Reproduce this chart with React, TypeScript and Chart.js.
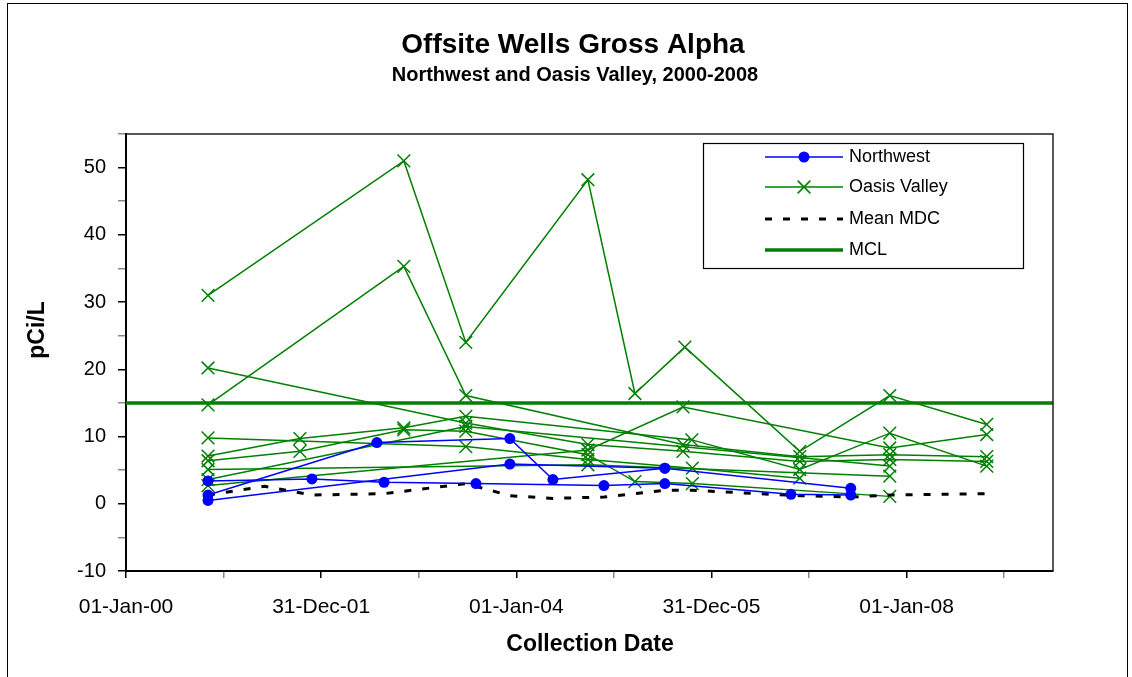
import React, { useEffect, useRef } from 'react';
import { Chart, registerables } from 'chart.js';
Chart.register(...registerables);

const FONT = "'Liberation Sans', Arial, sans-serif";
const GREEN = '#008000';
const BLUE = '#0000FF';

// ---- axis ticks ----
const xTickDays = [0, 365.25, 730.5, 1095.75, 1461, 1826.25, 2191.5, 2556.75, 2922, 3287.25];
const xTickLabels = ['01-Jan-00', '', '31-Dec-01', '', '01-Jan-04', '', '31-Dec-05', '', '01-Jan-08', ''];
const xMaxDays = 3470;
const yMin = -10;
const yMax = 55;

// ---- Northwest wells ----
const nw1Dates = ['2000-11-03', '2002-07-28', '2003-12-08', '2004-05-17', '2005-07-10', '2007-06-06'];
const nw1Values = [1.3, 9.1, 9.7, 3.6, 5.3, 2.3];
const nw2Dates = ['2000-11-03', '2001-11-27', '2002-08-24', '2003-08-03', '2004-11-24', '2005-07-10', '2006-10-25', '2007-06-06'];
const nw2Values = [3.4, 3.7, 3.2, 3.0, 2.7, 3.0, 1.4, 1.3];
const nw3Dates = ['2000-11-03', '2003-12-08', '2005-07-10'];
const nw3Values = [0.5, 5.9, 5.3];

// ---- Oasis Valley wells ----
const ov1Dates = ['2000-11-03', '2002-11-06', '2003-06-26', '2004-09-25', '2005-03-20', '2005-09-23', '2006-11-27', '2007-10-30', '2008-10-27'];
const ov1Values = [31.0, 51.0, 24.0, 48.2, 16.4, 23.3, 7.8, 16.1, 11.8];
const ov2Dates = ['2000-11-03', '2002-11-06', '2003-06-26', '2005-09-16', '2006-11-27', '2007-10-30', '2008-10-27'];
const ov2Values = [14.7, 35.3, 16.1, 8.8, 7.0, 7.3, 7.0];
const ov3Dates = ['2000-11-03', '2003-06-26', '2004-09-25', '2005-09-16', '2006-11-27', '2007-10-30', '2008-10-27'];
const ov3Values = [20.2, 12.0, 8.8, 7.8, 6.3, 6.6, 6.3];
const ov4Dates = ['2000-11-03', '2003-06-26', '2004-09-25', '2005-10-21', '2006-11-27'];
const ov4Values = [9.8, 8.5, 6.6, 5.3, 3.8];
const ov5Dates = ['2000-11-03', '2001-10-13', '2002-11-06', '2003-06-26', '2005-10-19', '2006-11-27', '2007-10-30', '2008-10-27'];
const ov5Values = [7.1, 9.7, 11.3, 13.0, 9.5, 5.1, 10.5, 5.6];
const ov6Dates = ['2000-11-03', '2001-10-13', '2002-11-06', '2003-06-26', '2004-09-25', '2005-03-20', '2005-10-21', '2007-10-30'];
const ov6Values = [6.4, 7.8, 11.0, 10.8, 7.3, 3.3, 3.0, 1.1];
const ov7Dates = ['2000-11-03', '2004-09-25', '2007-10-30'];
const ov7Values = [5.1, 5.8, 4.1];
const ov8Dates = ['2000-11-03', '2003-06-26', '2007-10-30'];
const ov8Values = [3.6, 11.5, 5.6];
const ov9Dates = ['2000-11-03', '2004-09-25', '2005-09-16', '2007-10-30', '2008-10-27'];
const ov9Values = [2.7, 8.0, 14.4, 8.3, 10.3];

// ---- Mean MDC and MCL ----
const mdcDates = ['2000-11-03', '2001-06-04', '2001-11-27', '2002-08-24', '2003-06-26', '2003-12-08', '2004-05-17', '2004-11-24', '2005-07-10', '2005-10-21', '2006-11-27', '2007-06-06', '2007-10-30', '2008-10-27'];
const mdcValues = [1.3, 2.6, 1.3, 1.5, 3.0, 1.2, 0.8, 1.0, 2.0, 2.0, 1.2, 1.0, 1.3, 1.5];
const mclValue = 15;

const legendLabels = ['Northwest', 'Oasis Valley', 'Mean MDC', 'MCL'];

const ORIGIN = Date.UTC(2000, 0, 1);
const dayOf = (s: string) => (Date.parse(s + 'T00:00:00Z') - ORIGIN) / 86400000;
const pts = (d: string[], v: number[]) => d.map((s, i) => ({ x: dayOf(s), y: v[i] }));

function drawCrossRot(ctx: CanvasRenderingContext2D, x: number, y: number, r: number) {
  const d = r * Math.SQRT1_2;
  ctx.beginPath();
  ctx.moveTo(x - d, y - d); ctx.lineTo(x + d, y + d);
  ctx.moveTo(x - d, y + d); ctx.lineTo(x + d, y - d);
  ctx.stroke();
}

const decor = {
  id: 'decor',
  beforeDraw(chart: any) {
    const { ctx, width, height } = chart;
    ctx.save();
    ctx.fillStyle = '#fff';
    ctx.fillRect(0, 0, width, height);
    ctx.restore();
  },
  afterDraw(chart: any) {
    const { ctx, chartArea: a } = chart;
    ctx.save();
    // plot frame top/right
    ctx.strokeStyle = '#222';
    ctx.lineWidth = 1.5;
    ctx.beginPath();
    ctx.moveTo(a.left, a.top); ctx.lineTo(a.right, a.top); ctx.lineTo(a.right, a.bottom);
    ctx.stroke();
    // outer border
    ctx.strokeStyle = '#000';
    ctx.lineWidth = 1;
    ctx.strokeRect(7.5, 3.5, 1120, 700);

    // titles
    ctx.fillStyle = '#000';
    ctx.textAlign = 'center';
    ctx.textBaseline = 'middle';
    ctx.font = `bold 28px ${FONT}`;
    ctx.fillText('Offsite Wells Gross Alpha', 573, 45);
    ctx.font = `bold 20px ${FONT}`;
    ctx.fillText('Northwest and Oasis Valley, 2000-2008', 575, 75);
    ctx.font = `bold 23px ${FONT}`;
    ctx.fillText('Collection Date', 590, 645);
    ctx.save();
    ctx.translate(38, 330);
    ctx.rotate(-Math.PI / 2);
    ctx.fillText('pCi/L', 0, 0);
    ctx.restore();

    // legend
    const bx = 703, by = 143, bw = 320, bh = 125;
    ctx.fillStyle = '#fff';
    ctx.fillRect(bx, by, bw, bh);
    ctx.strokeStyle = '#000';
    ctx.lineWidth = 1.2;
    ctx.strokeRect(bx + 0.5, by + 0.5, bw, bh);
    const rows = [157, 187, 219, 250];
    const x0 = 765, x1 = 843, xm = 804;
    // Northwest
    ctx.strokeStyle = BLUE; ctx.lineWidth = 1.5; ctx.setLineDash([]);
    ctx.beginPath(); ctx.moveTo(x0, rows[0]); ctx.lineTo(x1, rows[0]); ctx.stroke();
    ctx.fillStyle = BLUE;
    ctx.beginPath(); ctx.arc(xm, rows[0], 5.5, 0, Math.PI * 2); ctx.fill();
    // Oasis
    ctx.strokeStyle = GREEN; ctx.lineWidth = 1.5;
    ctx.beginPath(); ctx.moveTo(x0, rows[1]); ctx.lineTo(x1, rows[1]); ctx.stroke();
    drawCrossRot(ctx, xm, rows[1], 9);
    // MDC
    ctx.strokeStyle = '#000'; ctx.lineWidth = 3; ctx.setLineDash([7, 11]);
    ctx.beginPath(); ctx.moveTo(x0, rows[2]); ctx.lineTo(x1, rows[2]); ctx.stroke();
    ctx.setLineDash([]);
    // MCL
    ctx.strokeStyle = GREEN; ctx.lineWidth = 3.5;
    ctx.beginPath(); ctx.moveTo(x0, rows[3]); ctx.lineTo(x1, rows[3]); ctx.stroke();
    ctx.fillStyle = '#000';
    ctx.textAlign = 'left';
    ctx.font = `18px ${FONT}`;
    legendLabels.forEach((t, i) => ctx.fillText(t, 849, rows[i]));
    ctx.restore();
  },
};

export default function App() {
  const ref = useRef<HTMLCanvasElement | null>(null);
  useEffect(() => {
    document.body.style.margin = '0';
    const nw = [pts(nw1Dates, nw1Values), pts(nw2Dates, nw2Values), pts(nw3Dates, nw3Values)];
    const ov = [
      pts(ov1Dates, ov1Values), pts(ov2Dates, ov2Values), pts(ov3Dates, ov3Values),
      pts(ov4Dates, ov4Values), pts(ov5Dates, ov5Values), pts(ov6Dates, ov6Values),
      pts(ov7Dates, ov7Values), pts(ov8Dates, ov8Values), pts(ov9Dates, ov9Values),
    ];
    const datasets: any[] = [];
    nw.forEach((d, i) => datasets.push({
      label: 'Northwest ' + (i + 1), data: d, borderColor: BLUE, borderWidth: 1.5,
      pointStyle: 'circle', pointRadius: 5.5, pointBackgroundColor: BLUE, pointBorderColor: BLUE, pointBorderWidth: 0,
      tension: 0, clip: false,
    }));
    datasets.push({
      label: 'Mean MDC', data: pts(mdcDates, mdcValues), borderColor: '#000', borderWidth: 3,
      borderDash: [7, 11], pointRadius: 0, tension: 0,
    });
    ov.forEach((d, i) => datasets.push({
      label: 'Oasis Valley ' + (i + 1), data: d, borderColor: GREEN, borderWidth: 1.5,
      pointStyle: 'crossRot', pointRadius: 9, pointBorderColor: GREEN, pointBorderWidth: 1.5,
      pointBackgroundColor: GREEN, tension: 0, clip: false,
    }));
    datasets.push({
      label: 'MCL', data: [{ x: 0, y: mclValue }, { x: xMaxDays, y: mclValue }], borderColor: GREEN,
      borderWidth: 3.5, pointRadius: 0, tension: 0,
    });

    const chart = new Chart(ref.current!, {
      type: 'line',
      data: { datasets },
      options: {
        animation: false,
        responsive: false,
        devicePixelRatio: 1,
        layout: { padding: { left: 0, top: 134, right: 79, bottom: 0 } },
        plugins: { legend: { display: false }, tooltip: { enabled: false }, title: { display: false } },
        scales: {
          x: {
            type: 'linear', min: 0, max: xMaxDays,
            afterFit: (s: any) => { s.height = 106; },
            afterBuildTicks: (s: any) => { s.ticks = xTickDays.map((v) => ({ value: v })); },
            ticks: {
              autoSkip: false, maxRotation: 0, padding: 17, color: '#000',
              font: { family: FONT, size: 21 },
              callback: (_v: any, i: number) => xTickLabels[i],
            },
            grid: {
              drawOnChartArea: false, drawTicks: true, tickLength: 7, lineWidth: 1.5,
              color: (c: any) => (c.index % 2 === 0 ? '#000' : '#888'),
            },
            border: { display: true, color: '#000', width: 2 },
          },
          y: {
            type: 'linear', min: yMin, max: yMax,
            afterFit: (s: any) => { s.width = 126; },
            ticks: {
              stepSize: 5, padding: 12, color: '#000', autoSkip: false,
              font: { family: FONT, size: 20 },
              callback: (v: any) => (Number(v) % 10 === 0 ? String(v) : ''),
            },
            grid: {
              drawOnChartArea: false, drawTicks: true, tickLength: 8, lineWidth: 1.5,
              color: (c: any) => (c.tick && c.tick.value % 10 === 0 ? '#000' : '#888'),
            },
            border: { display: true, color: '#000', width: 2 },
          },
        },
      },
      plugins: [decor],
    });
    return () => chart.destroy();
  }, []);
  return <canvas ref={ref} width={1132} height={677} style={{ display: 'block' }} />;
}
